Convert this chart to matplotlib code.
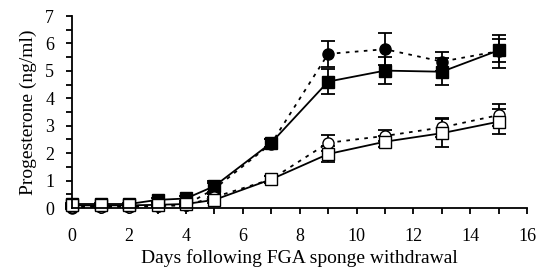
import numpy as np
import matplotlib
matplotlib.use("Agg")
import matplotlib.pyplot as plt
from matplotlib.ticker import MultipleLocator

# ============================================================
# Data
# ============================================================
days = [0, 1, 2, 3, 4, 5, 7, 9, 11, 13, 15]

fill_circ = [0.02, 0.05, 0.05, 0.08, 0.12, 0.70, 2.35, 5.62, 5.79, 5.34, 5.72]
fill_circ_err = [0.05, 0.05, 0.05, 0.05, 0.08, 0.20, 0.15, 0.47, 0.58, 0.35, 0.60]

fill_sq = [0.15, 0.15, 0.15, 0.30, 0.35, 0.80, 2.38, 4.61, 5.01, 4.97, 5.75]
fill_sq_err = [0.05, 0.05, 0.05, 0.08, 0.10, 0.20, 0.15, 0.45, 0.50, 0.50, 0.42]

open_circ = [0.05, 0.05, 0.05, 0.08, 0.10, 0.40, 1.05, 2.38, 2.63, 2.94, 3.39]
open_circ_err = [0.05, 0.05, 0.05, 0.05, 0.05, 0.10, 0.12, 0.30, 0.20, 0.35, 0.40]

open_sq = [0.10, 0.10, 0.10, 0.12, 0.15, 0.30, 1.05, 1.97, 2.42, 2.73, 3.15]
open_sq_err = [0.05, 0.05, 0.05, 0.05, 0.05, 0.10, 0.12, 0.30, 0.20, 0.50, 0.45]

# ============================================================
# Figure
# ============================================================
plt.rcParams["font.family"] = ["Liberation Serif", "DejaVu Serif"]

fig = plt.figure(figsize=(5.39, 2.76), dpi=100)
ax = fig.add_axes([0.134, 0.246, 0.844, 0.696])

common = dict(color="black", ecolor="black", elinewidth=1.3, capsize=5,
              capthick=1.3, markersize=8, linewidth=1.3)
dots = (0, (2, 3))

ax.errorbar(days, fill_circ, yerr=fill_circ_err, fmt="o", linestyle=dots,
            markerfacecolor="black", **common)
ax.errorbar(days, fill_sq, yerr=fill_sq_err, fmt="s", linestyle="-",
            markerfacecolor="black", **common)
ax.errorbar(days, open_circ, yerr=open_circ_err, fmt="o", linestyle=dots,
            markerfacecolor="white", **common)
ax.errorbar(days, open_sq, yerr=open_sq_err, fmt="s", linestyle="-",
            markerfacecolor="white", **common)

ax.set_xlim(0, 16)
ax.set_ylim(0, 7)
ax.xaxis.set_major_locator(MultipleLocator(2))
ax.xaxis.set_minor_locator(MultipleLocator(1))
ax.yaxis.set_major_locator(MultipleLocator(1))
ax.yaxis.set_minor_locator(MultipleLocator(0.5))
ax.tick_params(which="both", direction="out", length=4, width=1.3,
               labelsize=13, colors="black")
ax.tick_params(axis="x", pad=10)
ax.tick_params(axis="y", pad=9)

for side in ["top", "right"]:
    ax.spines[side].set_visible(False)
for side in ["left", "bottom"]:
    ax.spines[side].set_linewidth(1.3)

ax.set_xlabel("Days following FGA sponge withdrawal", fontsize=14, labelpad=3)
ax.set_ylabel("Progesterone (ng/ml)", fontsize=14, labelpad=6)

for line in ax.lines:
    line.set_clip_on(False)

fig.savefig("out.png", dpi=100)
